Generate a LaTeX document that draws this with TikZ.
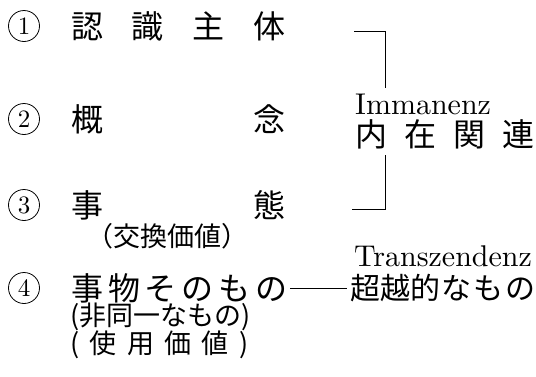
\documentclass[tikz,border=0pt]{standalone}
\usepackage{fontspec}
\newfontfamily\jpf{Noto Sans CJK JP}
\newfontfamily\latf{lmroman10-regular.otf}
\newcommand\sprd[2]{\makebox[#1][s]{#2}}
\begin{document}
\begin{tikzpicture}[x=1pt,y=-1pt,
  jt/.style={inner sep=0pt,anchor=west,font=\jpf\fontsize{32}{34}\selectfont},
  jts/.style={inner sep=0pt,anchor=west,font=\jpf\fontsize{27}{29}\selectfont},
  lt/.style={inner sep=0pt,font=\latf\fontsize{30}{32}\selectfont,anchor=base west},
  num/.style={circle,draw,line width=0.8pt,minimum size=31pt,inner sep=0pt,font=\latf\fontsize{25}{27}\selectfont},
  ln/.style={line width=1pt}]
\useasboundingbox[fill=white] (0,0) rectangle (536,376);
% left column
\node[num] (c1) at (24,26) {1};
\node[jt] (r1) at (71,26) {\sprd{214pt}{認\hfill 識\hfill 主\hfill 体}};
\node[num] (c2) at (24,119) {2};
\node[jt] (r2) at (71,119) {\sprd{214pt}{概\hfill 念}};
\node[num] (c3) at (24,205) {3};
\node[jt] (r3) at (71,205) {\sprd{214pt}{事\hfill 態}};
\node[jts] (r3b) at (86,236) {\sprd{162pt}{（\hfill 交換価値\hfill ）}};
\node[num] (c4) at (24,288) {4};
\node[jt] (r4) at (71,288) {\sprd{216pt}{事\hfill 物\hfill そ\hfill の\hfill も\hfill の}};
\node[jts] (r4b) at (70,317) {\sprd{178pt}{(\hfill 非\hfill 同\hfill 一\hfill な\hfill も\hfill の\hfill )}};
\node[jts] (r4c) at (70,345) {\sprd{178pt}{(\hfill 使\hfill 用\hfill 価\hfill 値\hfill )}};
% right column
\node[lt] (imm) at (355,114) {Immanenz};
\node[jt] (imj) at (355,134) {\sprd{179pt}{内\hfill 在\hfill 関\hfill 連}};
\node[lt] (tr) at (354,266) {Transzendenz};
\node[jt,font=\jpf\fontsize{30}{32}\selectfont] (trj) at (350,288) {\sprd{185pt}{超越的\hfill な\hfill も\hfill の}};
% bracket
\coordinate (bt0) at (354,31);
\coordinate (bt1) at (385,31);
\coordinate (bt2) at (385,88);
\coordinate (bb0) at (385,155);
\coordinate (bb1) at (385,209);
\coordinate (bb2) at (352,209);
\draw[ln] (bt0) -- (bt1) -- (bt2);
\draw[ln] (bb0) -- (bb1) -- (bb2);
% connector
\draw[ln] ([xshift=3pt]r4.east) -- ([xshift=-3pt]trj.west);
\end{tikzpicture}
\end{document}
